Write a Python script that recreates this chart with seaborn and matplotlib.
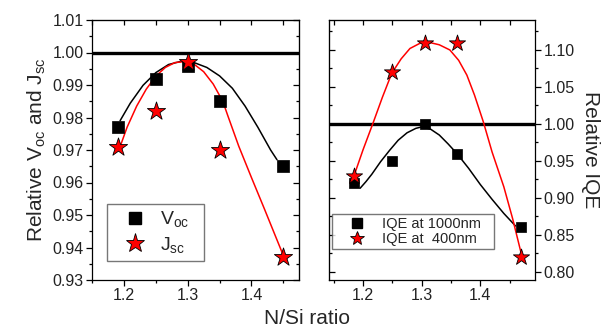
import numpy as np
import pandas as pd
import seaborn as sns
import matplotlib
matplotlib.use("Agg")
import matplotlib.pyplot as plt
from matplotlib.ticker import MultipleLocator, FormatStrFormatter
from matplotlib.lines import Line2D

# --- left panel: relative Voc / Jsc ---
ratio_left = [1.19, 1.25, 1.30, 1.35, 1.45]
voc = [0.977, 0.992, 0.996, 0.985, 0.965]
jsc = [0.971, 0.982, 0.997, 0.970, 0.937]

# fitted curves
voc_fit_x = [1.194, 1.21, 1.23, 1.25, 1.27, 1.29, 1.31, 1.33, 1.35, 1.37, 1.39, 1.41, 1.43, 1.44]
voc_fit_y = [0.979, 0.9844, 0.9899, 0.9938, 0.9963, 0.9973, 0.9969, 0.9954, 0.9928, 0.9890,
             0.9835, 0.9770, 0.9700, 0.9670]
jsc_fit_x = [1.194, 1.205, 1.22, 1.235, 1.25, 1.265, 1.28, 1.295, 1.31, 1.325, 1.34, 1.355,
             1.363, 1.38, 1.40, 1.42, 1.45]
jsc_fit_y = [0.971, 0.977, 0.9835, 0.9887, 0.9927, 0.9954, 0.9969, 0.9972, 0.9964, 0.9941,
             0.9903, 0.9850, 0.9805, 0.9712, 0.9615, 0.9520, 0.9375]

# --- right panel: relative IQE ---
ratio_right = [1.185, 1.25, 1.305, 1.36, 1.47]
iqe_1000 = [0.92, 0.95, 1.00, 0.96, 0.86]
iqe_400 = [0.93, 1.07, 1.11, 1.11, 0.82]

iqe1000_fit_x = [1.195, 1.205, 1.215, 1.23, 1.245, 1.26, 1.275, 1.29, 1.30, 1.315, 1.33, 1.345,
                 1.36, 1.38, 1.40, 1.42, 1.44, 1.46]
iqe1000_fit_y = [0.913, 0.922, 0.932, 0.949, 0.964, 0.978, 0.988, 0.994, 0.996, 0.993, 0.985,
                 0.973, 0.960, 0.940, 0.918, 0.898, 0.879, 0.862]
iqe400_fit_x = [1.186, 1.20, 1.217, 1.233, 1.249, 1.265, 1.28, 1.297, 1.314, 1.33, 1.348, 1.363,
                1.377, 1.39, 1.405, 1.42, 1.44, 1.455, 1.469]
iqe400_fit_y = [0.933, 0.965, 1.001, 1.036, 1.0685, 1.088, 1.102, 1.109, 1.110, 1.107, 1.100,
                1.086, 1.066, 1.039, 1.003, 0.962, 0.915, 0.872, 0.827]

sns.set_style("ticks")
plt.rcParams['font.family'] = ['Liberation Sans', 'DejaVu Sans']
plt.rcParams['mathtext.default'] = 'regular'
for a in ('xtick', 'ytick'):
    plt.rcParams[a + '.minor.visible'] = True
    plt.rcParams[a + '.major.size'] = 4
    plt.rcParams[a + '.minor.size'] = 2.5
    plt.rcParams[a + '.major.width'] = 0.9
    plt.rcParams[a + '.minor.width'] = 0.9
    plt.rcParams[a + '.color'] = 'black'

fig = plt.figure(figsize=(6.15, 3.31), dpi=100)
W, H = 615, 331
ax1 = fig.add_axes([92 / W, 51 / H, 207 / W, 260 / H])
ax2 = fig.add_axes([329 / W, 51 / H, 206.5 / W, 260 / H])

red = '#ff0000'


def style_axes(ax, label_side, ystep):
    other_side = 'left' if label_side == 'right' else 'right'
    for sp in ax.spines.values():
        sp.set_visible(True)
        sp.set_color('black')
        sp.set_linewidth(0.9)
    ax.xaxis.set_major_locator(MultipleLocator(0.1))
    ax.xaxis.set_minor_locator(MultipleLocator(0.05))
    ax.yaxis.set_major_locator(MultipleLocator(ystep))
    ax.yaxis.set_minor_locator(MultipleLocator(ystep / 2))
    ax.yaxis.set_major_formatter(FormatStrFormatter('%.2f'))
    ax.tick_params(which='both', direction='out', labelsize=11.5, labelcolor='#222222', pad=2,
                   bottom=True, top=False, **{label_side: True, other_side: False})
    ax.tick_params(axis='y', which='both', **{'label' + label_side: True, 'label' + other_side: False})
    # inward ticks on the opposite sides
    top = ax.secondary_xaxis('top')
    top.xaxis.set_major_locator(MultipleLocator(0.1))
    top.xaxis.set_minor_locator(MultipleLocator(0.05))
    top.tick_params(which='both', direction='in', length=3.5, top=True, labeltop=False)
    other = ax.secondary_yaxis(other_side)
    other.yaxis.set_major_locator(MultipleLocator(ystep))
    other.yaxis.set_minor_locator(MultipleLocator(ystep / 2))
    other.tick_params(which='both', direction='in', labelleft=False, labelright=False,
                      **{other_side: True})
    other.tick_params(which='major', length=4)
    other.tick_params(which='minor', length=2.5)


# left panel
ax1.axhline(1.0, color='black', lw=2.4, zorder=1)
sns.lineplot(x=voc_fit_x, y=voc_fit_y, sort=False, color='black', lw=1.1, ax=ax1)
sns.lineplot(x=jsc_fit_x, y=jsc_fit_y, sort=False, color=red, lw=1.1, ax=ax1)
sns.scatterplot(x=ratio_left, y=voc, marker='s', s=80, color='black', edgecolor='black',
                linewidth=0.5, ax=ax1, zorder=3)
sns.scatterplot(x=ratio_left, y=jsc, marker='*', s=190, color=red, edgecolor='black',
                linewidth=0.6, ax=ax1, zorder=4)
ax1.set_xlim(1.15, 1.4745)
ax1.set_ylim(0.93, 1.01)
style_axes(ax1, 'left', 0.01)
ax1.set_ylabel(r'Relative V$_{oc}$ and J$_{sc}$', fontsize=15, labelpad=3)
ax1.set_xlabel('')

h1 = [Line2D([], [], ls='none', marker='s', ms=9, mfc='black', mec='black'),
      Line2D([], [], ls='none', marker='*', ms=14, mfc=red, mec='black', mew=0.6)]
leg1 = ax1.legend(h1, [r'V$_{oc}$', r'J$_{sc}$'], loc='lower left',
                  bbox_to_anchor=(0.072, 0.073, 0.47, 0.23), mode='expand',
                  borderaxespad=0, fontsize=14, frameon=True, fancybox=False,
                  edgecolor='#555555', handlelength=2.27, handletextpad=0.15,
                  labelspacing=0.3, borderpad=0.3)
leg1.get_frame().set_linewidth(1.0)

# right panel
ax2.axhline(1.0, color='black', lw=2.4, zorder=1)
sns.lineplot(x=iqe1000_fit_x, y=iqe1000_fit_y, sort=False, color='black', lw=1.1, ax=ax2)
sns.lineplot(x=iqe400_fit_x, y=iqe400_fit_y, sort=False, color=red, lw=1.1, ax=ax2)
sns.scatterplot(x=ratio_right, y=iqe_1000, marker='s', s=60, color='black', edgecolor='black',
                linewidth=0.5, ax=ax2, zorder=3)
sns.scatterplot(x=ratio_right, y=iqe_400, marker='*', s=150, color=red, edgecolor='black',
                linewidth=0.6, ax=ax2, zorder=4)
ax2.set_xlim(1.142, 1.494)
ax2.set_ylim(0.789, 1.1405)
ax2.yaxis.tick_right()
ax2.yaxis.set_label_position('right')
style_axes(ax2, 'right', 0.05)
ax2.set_ylabel('Relative IQE', fontsize=15, rotation=270, labelpad=18)
ax2.set_xlabel('')

h2 = [Line2D([], [], ls='none', marker='s', ms=7, mfc='black', mec='black'),
      Line2D([], [], ls='none', marker='*', ms=10, mfc=red, mec='black', mew=0.6)]
leg2 = ax2.legend(h2, ['IQE at 1000nm', 'IQE at  400nm'], loc='lower left',
                  bbox_to_anchor=(0.015, 0.119, 0.785, 0.127), mode='expand',
                  borderaxespad=0, fontsize=10.5, frameon=True, fancybox=False,
                  edgecolor='#555555', handlelength=3.0, handletextpad=0.2,
                  labelspacing=0.1, borderpad=0.2)
leg2.get_frame().set_linewidth(1.0)

fig.text(307 / W, 1 - 318 / H, 'N/Si ratio', fontsize=15, ha='center', va='center')

fig.savefig('out.png', dpi=100)
